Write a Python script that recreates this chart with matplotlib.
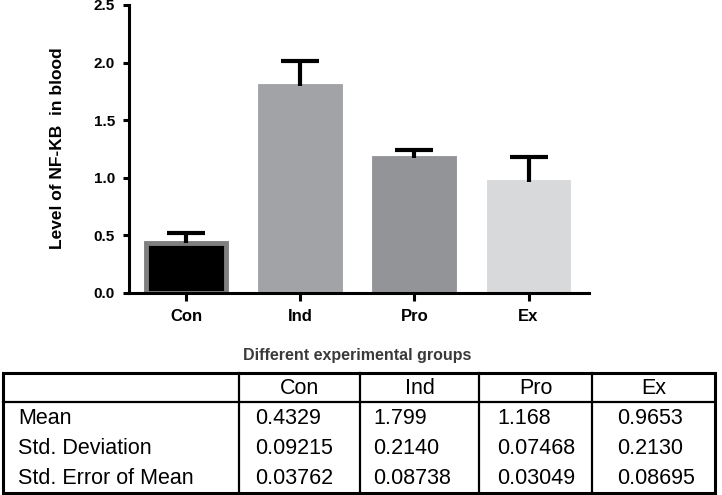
import matplotlib
matplotlib.use("Agg")
import matplotlib.pyplot as plt
from matplotlib.lines import Line2D
from matplotlib.patches import Rectangle

plt.rcParams['font.family'] = ['Liberation Sans', 'DejaVu Sans']

# data
groups = ["Con", "Ind", "Pro", "Ex"]
means = [0.4329, 1.799, 1.168, 0.9653]
sds = [0.09215, 0.2140, 0.07468, 0.2130]
sems = [0.03762, 0.08738, 0.03049, 0.08695]
mean_txt = ["0.4329", "1.799", "1.168", "0.9653"]
sd_txt = ["0.09215", "0.2140", "0.07468", "0.2130"]
sem_txt = ["0.03762", "0.08738", "0.03049", "0.08695"]
row_names = ["Mean", "Std. Deviation", "Std. Error of Mean"]

bar_faces = ["#000000", "#a2a3a6", "#939498", "#d8d9db"]
bar_edges = ["#7f7f7f", "#a2a3a6", "#939498", "#d8d9db"]

W, H = 722, 495
fig = plt.figure(figsize=(W / 100, H / 100), dpi=100)


def px_axes(x0, y0, x1, y1):
    # pixel box (top-left origin) -> figure fraction
    return fig.add_axes([x0 / W, 1 - y1 / H, (x1 - x0) / W, (y1 - y0) / H])


# -------------------------
# bar chart
# -------------------------
ax = px_axes(129, 5, 589, 293)
xs = list(range(len(groups)))
ax.bar(xs, means, width=0.7, color=bar_faces, edgecolor=bar_edges,
       linewidth=3.5, zorder=2)
eb = ax.errorbar(xs, means, yerr=[[0] * len(sds), sds], fmt="none",
                 ecolor="black", elinewidth=3, capsize=14, capthick=3,
                 zorder=3)
eb[1][0].set_visible(False)  # only the upper cap, like Prism

ax.set_xlim(-0.5, 3.53)
ax.set_ylim(0, 2.5)
ax.set_yticks([0.0, 0.5, 1.0, 1.5, 2.0, 2.5])
ax.set_yticklabels(["0.0", "0.5", "1.0", "1.5", "2.0", "2.5"])
ax.set_xticks(xs)
ax.set_xticklabels(groups)

for s in ["top", "right"]:
    ax.spines[s].set_visible(False)
for s in ["left", "bottom"]:
    ax.spines[s].set_linewidth(2.2)

ax.tick_params(axis="y", direction="out", length=4.5, width=2.2, pad=5.5,
               labelsize=11)
ax.tick_params(axis="x", direction="out", length=5.8, width=2.2, pad=6,
               labelsize=12)
for lab in ax.get_xticklabels() + ax.get_yticklabels():
    lab.set_fontweight("bold")

ax.set_ylabel("Level of NF-KB  in blood", fontsize=12.5, fontweight="bold")
ax.yaxis.set_label_coords(-0.139, 0.503)
ax.set_xlabel("Different experimental groups", fontsize=11.5,
              fontweight="bold", color="#3a3a3a")
ax.xaxis.set_label_coords(0.496, -0.191)

# -------------------------
# table
# -------------------------
tx0, ty0, tx1, ty1 = 3, 373, 715, 493
axt = px_axes(tx0, ty0, tx1, ty1)
axt.set_xlim(0, tx1 - tx0)
axt.set_ylim(ty1 - ty0, 0)
axt.axis("off")

col_edges = [0, 236, 357, 476, 589, 712]
row_edges = [0, 29, 59, 89, 120]
text_pad = [15, 16, 13, 18, 25]

axt.add_patch(Rectangle((0, 0), col_edges[-1], row_edges[-1], fill=False,
                        edgecolor="black", linewidth=2.2, clip_on=False))
for cx in col_edges[1:-1]:
    axt.add_line(Line2D([cx, cx], [0, row_edges[-1]], color="black",
                        linewidth=1.6, clip_on=False))
axt.add_line(Line2D([0, col_edges[-1]], [row_edges[1], row_edges[1]],
                    color="black", linewidth=1.6, clip_on=False))

fs = 15.5
for i, g in enumerate(groups):
    cx = (col_edges[i + 1] + col_edges[i + 2]) / 2
    axt.text(cx, (row_edges[0] + row_edges[1]) / 2 + 1, g, ha="center",
             va="center", fontsize=fs)

rows = [mean_txt, sd_txt, sem_txt]
for r, (name, vals) in enumerate(zip(row_names, rows)):
    cy = (row_edges[r + 1] + row_edges[r + 2]) / 2 + 1
    axt.text(col_edges[0] + text_pad[0], cy, name, ha="left", va="center",
             fontsize=fs)
    for i, v in enumerate(vals):
        axt.text(col_edges[i + 1] + text_pad[i + 1], cy, v, ha="left",
                 va="center", fontsize=fs)

fig.savefig("out.png", dpi=100)
